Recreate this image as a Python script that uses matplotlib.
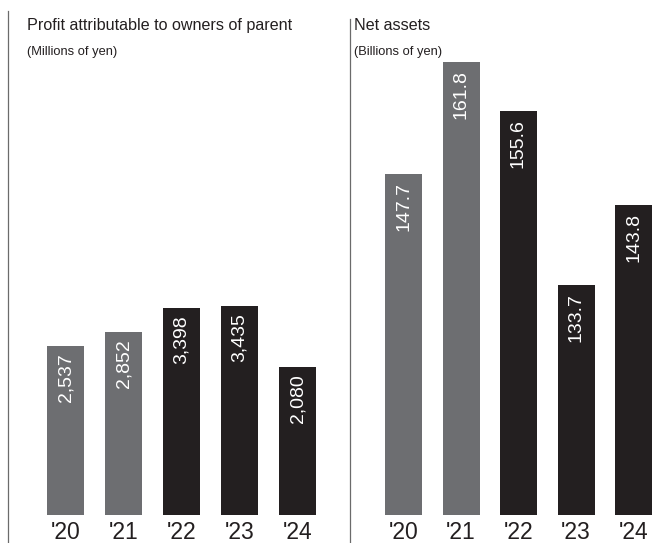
import matplotlib

matplotlib.use("Agg")
import matplotlib.pyplot as plt
import numpy as np

plt.rcParams["font.family"] = ["Liberation Sans", "DejaVu Sans"]

years = ["'20", "'21", "'22", "'23", "'24"]
profit = [2537, 2852, 3398, 3435, 2080]
profit_labels = ["2,537", "2,852", "3,398", "3,435", "2,080"]
net_assets = [147.7, 161.8, 155.6, 133.7, 143.8]
net_labels = ["147.7", "161.8", "155.6", "133.7", "143.8"]
bar_colors = ["#6d6e71", "#6d6e71", "#231f20", "#231f20", "#231f20"]

W, H = 652, 543
fig = plt.figure(figsize=(W / 100, H / 100), dpi=100)


def panel(left_px, right_px, top_px, x0_px, step_px, base, px_per_unit,
          values, labels, title, unit):
    bottom_px = 515
    ax = fig.add_axes([left_px / W, (H - bottom_px) / H,
                       (right_px - left_px) / W, (bottom_px - top_px) / H])
    x = np.arange(len(values))
    heights = np.array(values) - base
    ax.bar(x, heights, bottom=base, width=37 / step_px, color=bar_colors)
    ax.set_xlim((left_px - x0_px) / step_px, (right_px - x0_px) / step_px)
    ax.set_ylim(base, base + (bottom_px - top_px) / px_per_unit)
    for xi, v, lab in zip(x, values, labels):
        ax.annotate(lab, (xi, v), xytext=(0, -5.5), textcoords="offset points",
                    rotation=90, ha="center", va="top", color="white",
                    fontsize=14)
    ax.set_xticks(x, years)
    ax.tick_params(axis="x", length=0, pad=4, labelsize=16.5, colors="#231f20")
    ax.set_yticks([])
    for s in ax.spines.values():
        s.set_visible(False)
    ax.axvline(ax.get_xlim()[0], ymin=-(H - bottom_px) / (bottom_px - top_px),
               ymax=1, color="#6b6b6b", lw=0.9, clip_on=False)
    tx = (left_px + 19 if left_px < 100 else left_px + 4) / W
    fig.text(tx, 1 - 30 / H, title, fontsize=11.6, va="baseline", color="#231f20")
    fig.text(tx, 1 - 55 / H, unit, fontsize=9.3, va="baseline", color="#231f20")
    return ax


panel(8, 340, 11, 65.5, 58, -1233, 0.0448, profit, profit_labels,
      "Profit attributable to owners of parent", "(Millions of yen)")
panel(350, 652, 19, 403.5, 57.5, 104.75, 7.94, net_assets, net_labels,
      "Net assets", "(Billions of yen)")

fig.savefig("out.png", dpi=100)
plt.close(fig)
